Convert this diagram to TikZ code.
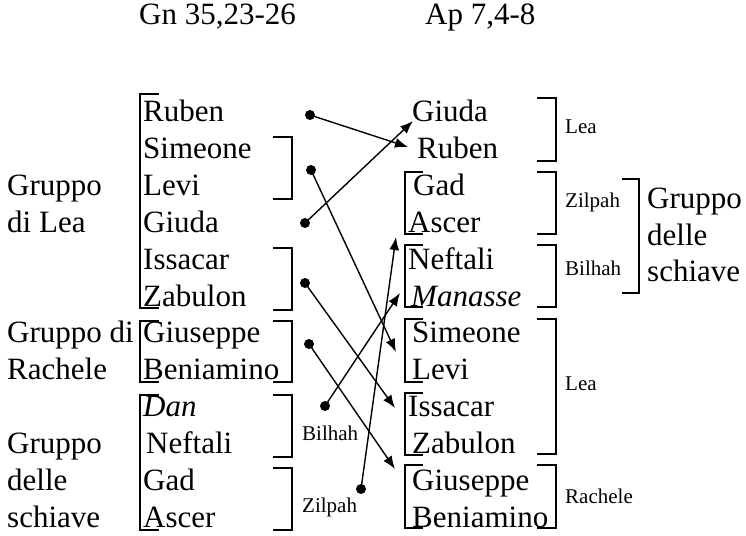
\documentclass[tikz,border=0pt]{standalone}
\usepackage{fontspec}
\setmainfont{Liberation Serif}
\usepackage{tikz}
\usetikzlibrary{arrows.meta}

\tikzset{
	txt/.style={anchor=base west,inner sep=0pt,font=\fontsize{31}{36}\selectfont},
	lbl/.style={anchor=base west,inner sep=0pt,font=\fontsize{21}{24}\selectfont},
	brk/.style={line width=1.8pt},
	dot/.style={circle,fill,inner sep=0pt,minimum size=10pt},
	arr/.style={-{Latex[length=13pt,width=10pt]},line width=1.4pt}
}

\begin{document}
\begin{tikzpicture}[x=1pt,y=-1pt]
	\useasboundingbox (0,0) rectangle (746,535);
	% titoli
	\node[txt] (gn) at (139,25) {Gn 35,23-26};
	\node[txt] (ap) at (425,25) {Ap 7,4-8};
	% gruppi a sinistra
	\node[txt] (g1a) at (7,195) {Gruppo};
	\node[txt] (g1b) at (7,232) {di Lea};
	\node[txt] (g2a) at (7,342) {Gruppo di};
	\node[txt] (g2b) at (7,379) {Rachele};
	\node[txt] (g3a) at (7,453) {Gruppo};
	\node[txt] (g3b) at (7,490) {delle};
	\node[txt] (g3c) at (7,527) {schiave};
	% Genesi
	\node[txt] (lRuben) at (143,121) {Ruben};
	\node[txt] (lSimeone) at (143,158) {Simeone};
	\node[txt] (lLevi) at (143,195) {Levi};
	\node[txt] (lGiuda) at (143,232) {Giuda};
	\node[txt] (lIssacar) at (143,269) {Issacar};
	\node[txt] (lZabulon) at (143,306) {Zabulon};
	\node[txt] (lGiuseppe) at (143,342) {Giuseppe};
	\node[txt] (lBeniamino) at (143,379) {Beniamino};
	\node[txt] (lDan) at (143,416) {\itshape Dan};
	\node[txt] (lNeftali) at (146,453) {Neftali};
	\node[txt] (lGad) at (143,490) {Gad};
	\node[txt] (lAscer) at (143,527) {Ascer};
	\node[lbl] (lBilhah) at (302,440) {Bilhah};
	\node[lbl] (lZilpah) at (302,512) {Zilpah};
	% Apocalisse
	\node[txt] (rGiuda) at (412,121) {Giuda};
	\node[txt] (rRuben) at (417,158) {Ruben};
	\node[txt] (rGad) at (413,195) {Gad};
	\node[txt] (rAscer) at (408,232) {Ascer};
	\node[txt] (rNeftali) at (408,269) {Neftali};
	\node[txt] (rManasse) at (411,306) {\itshape Manasse};
	\node[txt] (rSimeone) at (412,342) {Simeone};
	\node[txt] (rLevi) at (412,379) {Levi};
	\node[txt] (rIssacar) at (408,416) {Issacar};
	\node[txt] (rZabulon) at (412,453) {Zabulon};
	\node[txt] (rGiuseppe) at (412,490) {Giuseppe};
	\node[txt] (rBeniamino) at (412,527) {Beniamino};
	\node[lbl] (rLea1) at (565,133) {Lea};
	\node[lbl] (rZilpah) at (565,207) {Zilpah};
	\node[lbl] (rBilhah) at (565,275) {Bilhah};
	\node[lbl] (rLea2) at (565,390) {Lea};
	\node[lbl] (rRachele) at (565,503) {Rachele};
	\node[txt] (g4a) at (647,208) {Gruppo};
	\node[txt] (g4b) at (647,245) {delle};
	\node[txt] (g4c) at (647,281) {schiave};
	% parentesi a sinistra
	\draw[brk] (159,94)--(140,94)--(140,308)--(159,308);
	\draw[brk] (273,137)--(292,137)--(292,199)--(273,199);
	\draw[brk] (273,248)--(292,248)--(292,310)--(273,310);
	\draw[brk] (159,321)--(140,321)--(140,382)--(159,382);
	\draw[brk] (273,321)--(292,321)--(292,382)--(273,382);
	\draw[brk] (159,395)--(140,395)--(140,530)--(159,530);
	\draw[brk] (273,395)--(292,395)--(292,457)--(273,457);
	\draw[brk] (273,468)--(292,468)--(292,530)--(273,530);
	% parentesi a destra
	\draw[brk] (537,98)--(556,98)--(556,161)--(537,161);
	\draw[brk] (423,172)--(405,172)--(405,234)--(423,234);
	\draw[brk] (537,172)--(556,172)--(556,234)--(537,234);
	\draw[brk] (423,245)--(405,245)--(405,307)--(423,307);
	\draw[brk] (537,245)--(556,245)--(556,307)--(537,307);
	\draw[brk] (423,319)--(405,319)--(405,382)--(423,382);
	\draw[brk] (423,393)--(405,393)--(405,455)--(423,455);
	\draw[brk] (537,319)--(556,319)--(556,454)--(537,454);
	\draw[brk] (423,465)--(405,465)--(405,528)--(423,528);
	\draw[brk] (537,465)--(556,465)--(556,528)--(537,528);
	\draw[brk] (622,179)--(639,179)--(639,293)--(622,293);
	% frecce
	\node[dot] (dRuben) at (310,115) {};
	\node[dot] (dLevi) at (311,170) {};
	\node[dot] (dGiuda) at (305,223) {};
	\node[dot] (dZabulon) at (305,283) {};
	\node[dot] (dGiuseppe) at (309,344) {};
	\node[dot] (dDan) at (325,406) {};
	\node[dot] (dGad) at (361,489) {};
	\coordinate (tRuben) at (408,147);
	\coordinate (tGiuda) at (413,121);
	\coordinate (tLevi) at (396,352);
	\coordinate (tZabulon) at (395,408);
	\coordinate (tGiuseppe) at (395,469);
	\coordinate (tDan) at (400,293);
	\coordinate (tGad) at (396,237);
	\draw[arr] (dRuben.center)--(tRuben);
	\draw[arr] (dGiuda.center)--(tGiuda);
	\draw[arr] (dLevi.center)--(tLevi);
	\draw[arr] (dZabulon.center)--(tZabulon);
	\draw[arr] (dGiuseppe.center)--(tGiuseppe);
	\draw[arr] (dDan.center)--(tDan);
	\draw[arr] (dGad.center)--(tGad);
\end{tikzpicture}
\end{document}
